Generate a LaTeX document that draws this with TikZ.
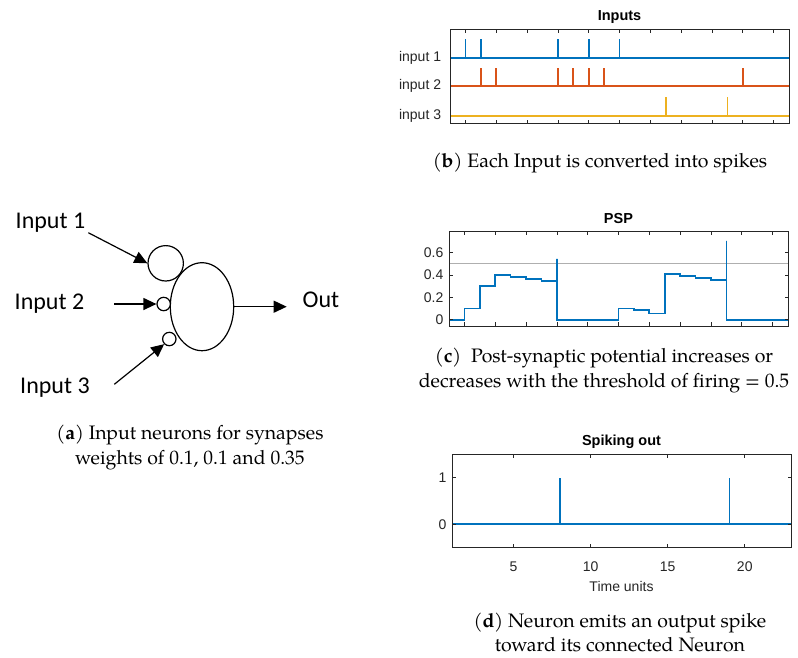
\documentclass[tikz,border=0pt]{standalone}
\usepackage{fontspec}
\usetikzlibrary{arrows.meta,shapes.geometric}
\newfontfamily\mlfont{Liberation Sans}
\newfontfamily\calfont{Carlito}
\newfontfamily\palfont{texgyrepagella}[Extension=.otf,UprightFont=*-regular,BoldFont=*-bold,ItalicFont=*-italic]
\definecolor{mblue}{RGB}{0,114,189}
\definecolor{morange}{RGB}{217,83,25}
\definecolor{myellow}{RGB}{237,177,32}
\definecolor{axgray}{RGB}{38,38,38}
\definecolor{thgray}{RGB}{175,175,175}
\tikzset{
  axisbox/.style={draw=axgray,line width=0.8pt},
  tickln/.style={draw=axgray,line width=0.7pt},
  ticklab/.style={font=\mlfont\fontsize{14}{16}\selectfont,text=axgray,inner sep=1pt},
  ptitle/.style={font=\mlfont\bfseries\fontsize{14.5}{16}\selectfont,text=black,inner sep=1pt},
  sig/.style={line width=1.7pt},
  capt/.style={font=\palfont\fontsize{19.5}{24.5}\selectfont,align=center,inner sep=0pt},
  lab/.style={font=\calfont\fontsize{24}{28}\selectfont,inner sep=0pt},
  neur/.style={draw=black,line width=1.2pt,inner sep=0pt},
  arr/.style={line width=1.2pt,-{Triangle[length=13pt,width=12pt]}},
}
\begin{document}
\begin{tikzpicture}[x=1pt,y=-1pt]
\useasboundingbox (0,0) rectangle (798,657);
\fill[white] (0,0) rectangle (798,657);

% ---------------- (a) neuron diagram ----------------
\node[neur,ellipse,minimum width=63.4pt,minimum height=88pt] (soma) at (202,306.7) {};
\node[neur,circle,minimum size=35.4pt,fill=white] (syn1) at (165.7,263.3) {};
\node[neur,circle,minimum size=13.4pt,fill=white] (syn2) at (163.7,304) {};
\node[neur,circle,minimum size=13.4pt,fill=white] (syn3) at (169.3,339) {};
\node[lab] (in1) at (50.5,222.5) {Input 1};
\node[lab] (in2) at (49.5,303.5) {Input 2};
\node[lab] (in3) at (55,387.5) {Input 3};
\node[lab] (out) at (321,299.5) {Out};
\coordinate (a1) at (88.3,232.7);
\coordinate (a2) at (114.3,304);
\coordinate (a3) at (114.3,384.3);
\coordinate (aout) at (286.7,306.7);
\draw[arr] (a1) -- (syn1.west);
\draw[arr] (a2) -- (syn2.west);
\draw[arr] (a3) -- (syn3.south west);
\draw[arr] (soma.east) -- (aout);
\node[capt] (capa) at (190,447.5) {(\textbf{a}) Input neurons for synapses\\weights of 0.1, 0.1 and 0.35};

% ---------------- (b) Inputs ----------------
\begin{scope}[shift={(434.59pt,0pt)},x=15.409pt,y=-1pt]
  \draw[sig,mblue] (1,58.3) -- (23,58.3);
  \foreach \u in {2,3,8,10,12} \draw[sig,mblue] (\u,58.3) -- (\u,39.3);
  \draw[sig,morange] (1,86.3) -- (23,86.3);
  \foreach \u in {3,4,8,9,10,11,20} \draw[sig,morange] (\u,86.3) -- (\u,67.7);
  \draw[sig,myellow] (1,115.7) -- (23,115.7);
  \foreach \u in {15,19} \draw[sig,myellow] (\u,115.7) -- (\u,96.7);
  \draw[axisbox] (1,29) rectangle (23,123);
  \foreach \u in {2,4,...,22} {
    \draw[tickln] (\u,123) -- (\u,119.5);
    \draw[tickln] (\u,29) -- (\u,32.5);
  }
  \node[ticklab,anchor=east] (l1) at (0.5,58.3) {input 1};
  \node[ticklab,anchor=east] (l2) at (0.5,86.3) {input 2};
  \node[ticklab,anchor=east] (l3) at (0.5,115.7) {input 3};
  \node[ptitle] (tin) at (12,17) {Inputs};
\end{scope}
\node[capt] (capb) at (600,163) {(\textbf{b}) Each Input is converted into spikes};

% ---------------- (c) PSP ----------------
\begin{scope}[shift={(433.59pt,-319.7pt)},x=15.409pt,y=111.7pt]
  \draw[line width=1.2pt,thgray] (1,0.5) -- (23,0.5);
  \draw[sig,mblue,line join=miter] (1,0) -| (2,0.1) -| (3,0.3) -| (4,0.4) -| (5,0.38) -| (6,0.362) -| (7,0.345) -| (8,0.545)
     -- (8,0) -| (12,0.1) -| (13,0.085) -| (14,0.055) -| (15,0.407) -| (16,0.39) -| (17,0.373) -| (18,0.357) -| (19,0.705)
     -- (19,0) -- (23,0);
  \draw[axisbox] (1,-0.056) rectangle (23,0.794);
  \foreach \u in {2,4,...,22} {
    \draw[tickln] (\u,-0.056) -- ++(0pt,3.5pt);
    \draw[tickln] (\u,0.794) -- ++(0pt,-3.5pt);
  }
  \foreach \v/\t [count=\i] in {0/0,0.2/0.2,0.4/0.4,0.6/0.6} {
    \draw[tickln] (1,\v) -- ++(3.5pt,0pt);
    \draw[tickln] (23,\v) -- ++(-3.5pt,0pt);
    \node[ticklab,anchor=east] (py\i) at ([xshift=-4.5pt]1,\v) {\t};
  }
  \node[ptitle] (tpsp) at (12,0.91) {PSP};
\end{scope}
\node[capt] (capc) at (604,370.5) {(\textbf{c})\ \ Post-synaptic potential increases or\\decreases with the threshold of firing = 0.5};

% ---------------- (d) Spiking out ----------------
\begin{scope}[shift={(436.59pt,-524.3pt)},x=15.409pt,y=46.7pt]
  \draw[sig,mblue] (1,0) -- (23,0);
  \foreach \u in {8,19} \draw[sig,mblue] (\u,0) -- (\u,1);
  \draw[axisbox] (1,-0.5) rectangle (23,1.5);
  \foreach \u in {5,10,15,20} {
    \draw[tickln] (\u,-0.5) -- ++(0pt,3.5pt);
    \draw[tickln] (\u,1.5) -- ++(0pt,-3.5pt);
    \node[ticklab] (sx\u) at ([yshift=-19pt]\u,-0.5) {\u};
  }
  \foreach \v in {0,1} {
    \draw[tickln] (1,\v) -- ++(3.5pt,0pt);
    \draw[tickln] (23,\v) -- ++(-3.5pt,0pt);
    \node[ticklab,anchor=east] (sy\v) at ([xshift=-4.5pt]1,\v) {\v};
  }
  \node[ticklab] (xlab) at ([yshift=-38.5pt]12,-0.5) {Time units};
  \node[ptitle] (tsp) at ([yshift=12.3pt]12,1.5) {Spiking out};
\end{scope}
\node[capt] (capd) at (620,632.5) {(\textbf{d}) Neuron emits an output spike\\toward its connected Neuron};
\end{tikzpicture}
\end{document}
